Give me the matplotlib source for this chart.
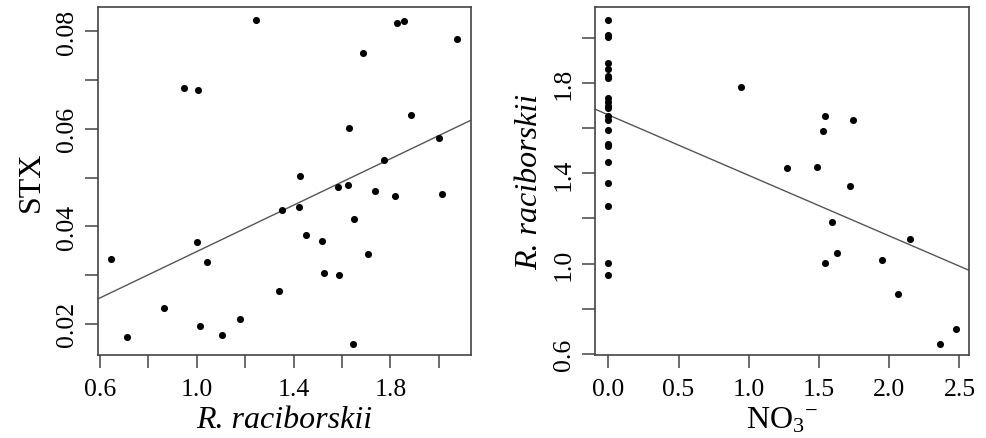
import numpy as np
import matplotlib
matplotlib.use("Agg")
import matplotlib.pyplot as plt

plt.rcParams["font.family"] = ["Liberation Serif", "DejaVu Serif"]
plt.rcParams["mathtext.fontset"] = "custom"
plt.rcParams["mathtext.rm"] = "Liberation Serif"
plt.rcParams["mathtext.it"] = "Liberation Serif:italic"

# left panel: R. raciborskii vs STX
rac_left = [1.246, 1.826, 1.857, 2.075, 1.688, 0.948, 1.004, 1.885, 1.629, 2.001,
            1.774, 1.428, 1.583, 1.626, 1.736, 1.818, 2.013, 1.353, 1.422, 1.651,
            1.453, 1.517, 0.999, 1.707, 0.645, 1.043, 1.526, 1.588, 1.341, 0.866,
            1.180, 1.015, 1.105, 0.710, 1.647]
stx = [0.0823, 0.0818, 0.0821, 0.0784, 0.0755, 0.0683, 0.0679, 0.0628, 0.0601, 0.0581,
       0.0536, 0.0503, 0.0480, 0.0484, 0.0472, 0.0462, 0.0466, 0.0433, 0.0439, 0.0414,
       0.0383, 0.0369, 0.0367, 0.0343, 0.0332, 0.0326, 0.0303, 0.0299, 0.0268, 0.0233,
       0.0210, 0.0196, 0.0177, 0.0172, 0.0159]
fit_left = (0.0110, 0.0238)   # intercept, slope

# right panel: NO3- vs R. raciborskii
no3 = [0.0] * 22 + [0.947, 1.543, 1.743, 1.527, 1.275, 1.486, 1.719, 1.593, 2.149,
                    1.629, 1.543, 1.949, 2.061, 2.476, 2.362]
rac_right = [2.080, 2.016, 2.010, 2.006, 1.890, 1.864, 1.831, 1.825, 1.736, 1.716,
             1.700, 1.692, 1.653, 1.638, 1.592, 1.529, 1.521, 1.453, 1.357, 1.255,
             1.003, 0.948,
             1.784, 1.655, 1.638, 1.588, 1.424, 1.429, 1.345, 1.184, 1.109,
             1.047, 1.003, 1.016, 0.865, 0.709, 0.643]
fit_right = (1.660, -0.2687)

fig = plt.figure(figsize=(9.87, 4.39), dpi=100)
ax1 = fig.add_axes([0.0993, 0.1891, 0.3779, 0.7927])
ax2 = fig.add_axes([0.6028, 0.1891, 0.3793, 0.7927])

spine_col = "#444444"
line_col = "#555555"

def style(ax):
    for s in ax.spines.values():
        s.set_color(spine_col)
        s.set_linewidth(1.2)
    ax.tick_params(length=9.5, width=1.1, color=spine_col, pad=7, labelsize=18.5)
    ax.tick_params(axis="y", pad=5)
    plt.setp(ax.get_yticklabels(), rotation=90, va="center")

# left
ax1.scatter(rac_left, stx, s=26, color="black", zorder=3, linewidths=0)
ax1.set_xlim(0.592, 2.133)
ax1.set_ylim(0.01357, 0.085)
xs = np.array(ax1.get_xlim())
ax1.plot(xs, fit_left[0] + fit_left[1] * xs, color=line_col, lw=1.0)
xt = np.arange(0.6, 2.01, 0.2)
ax1.set_xticks(xt)
ax1.set_xticklabels(["0.6", "", "1.0", "", "1.4", "", "1.8", ""])
yt = np.arange(0.02, 0.081, 0.01)
ax1.set_yticks(yt)
ax1.set_yticklabels(["0.02", "", "0.04", "", "0.06", "", "0.08"])
ax1.set_xlabel("R. raciborskii", fontsize=23, style="italic", labelpad=4)
ax1.set_ylabel("STX", fontsize=23, labelpad=7)
style(ax1)

# right
ax2.scatter(no3, rac_right, s=26, color="black", zorder=3, linewidths=0)
ax2.set_xlim(-0.095, 2.57)
ax2.set_ylim(0.594, 2.139)
xs = np.array(ax2.get_xlim())
ax2.plot(xs, fit_right[0] + fit_right[1] * xs, color=line_col, lw=1.0)
ax2.set_xticks(np.arange(0.0, 2.51, 0.5))
ax2.set_xticklabels(["0.0", "0.5", "1.0", "1.5", "2.0", "2.5"])
ax2.set_yticks(np.arange(0.6, 2.01, 0.2))
ax2.set_yticklabels(["0.6", "", "1.0", "", "1.4", "", "1.8", ""])
ax2.set_xlabel(r"NO$_{3}{}^{-}$", fontsize=23, labelpad=4)
ax2.set_ylabel("R. raciborskii", fontsize=23, style="italic", labelpad=6)
style(ax2)

fig.savefig("out.png", dpi=100)
